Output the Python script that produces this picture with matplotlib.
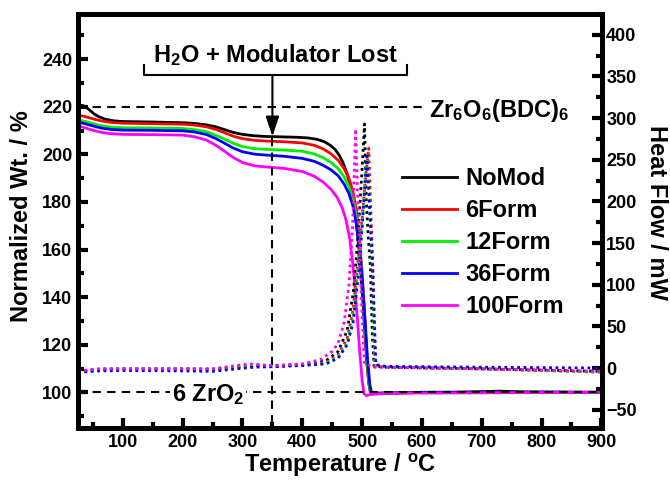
import matplotlib
matplotlib.use("Agg")
import matplotlib.pyplot as plt
from matplotlib.ticker import MultipleLocator

plt.rcParams['font.family'] = ['Liberation Sans', 'DejaVu Sans']
plt.rcParams['font.weight'] = 'bold'
plt.rcParams['mathtext.fontset'] = 'custom'
plt.rcParams['mathtext.rm'] = 'Liberation Sans:bold'
plt.rcParams['mathtext.bf'] = 'Liberation Sans:bold'
plt.rcParams['mathtext.it'] = 'Liberation Sans:bold'
plt.rcParams['mathtext.sf'] = 'Liberation Sans:bold'

# ---------------- data ----------------
series = ["NoMod", "6Form", "12Form", "36Form", "100Form"]
colors = ["#000000", "#ff0000", "#00ee00", "#0000ff", "#ff00ff"]

# TGA (normalized weight, %), left axis
tga_T_nomod = [25, 32, 38, 45, 52, 60, 70, 85, 100, 150, 200, 220, 240, 255, 270, 285, 300, 320, 340,
               360, 390, 410, 425, 437, 447, 455, 462, 468, 474, 480, 485, 490, 495, 500, 504, 508,
               511, 514, 518, 540, 650, 700, 730, 770, 900]
tga_W_nomod = [220.5, 220.6, 220, 218.5, 217, 215.8, 214.8, 214.1, 213.8, 213.6, 213.3, 213.0, 212.4,
               211.6, 210.4, 209.2, 208.4, 207.8, 207.5, 207.4, 207.2, 206.9, 206.3, 205.3, 203.8,
               202, 199.5, 196.5, 192.5, 187.5, 181, 172, 160, 143, 127, 112, 104, 100.2, 99.6,
               99.8, 100, 100.3, 100.5, 100.2, 100]

tga_T_6 = [25, 35, 45, 55, 65, 80, 100, 150, 200, 220, 240, 255, 270, 285, 300, 320, 340, 370, 400,
           420, 435, 448, 460, 470, 478, 485, 490, 495, 500, 504, 508, 511, 514, 520, 600, 900]
tga_W_6 = [216.5, 216, 215.3, 214.6, 214, 213.4, 213.1, 212.9, 212.7, 212.3, 211.6, 210.5, 209.1,
           207.6, 206.6, 205.9, 205.6, 205.3, 204.8, 203.8, 202.3, 200.2, 197.5, 194, 190, 184,
           177, 166, 150, 133, 115, 104, 99.3, 99.4, 100, 100]

tga_T_12 = [25, 35, 45, 55, 65, 80, 100, 150, 200, 220, 240, 255, 270, 285, 300, 320, 340, 370, 400,
            420, 435, 448, 460, 470, 478, 485, 490, 495, 500, 504, 508, 512, 515, 520, 600, 900]
tga_W_12 = [214.5, 214, 213.3, 212.6, 212, 211.5, 211.2, 211.1, 210.9, 210.4, 209.5, 208.1, 206.4,
            204.6, 203.3, 202.4, 202.1, 201.8, 201.3, 200.2, 198.6, 196.6, 194, 190.5, 186.5, 181,
            174, 164, 149, 132, 115, 103, 99.3, 99.4, 100, 100]

tga_T_36 = [25, 35, 45, 55, 65, 80, 100, 150, 200, 220, 240, 255, 270, 285, 300, 320, 340, 370, 400,
            420, 435, 448, 460, 470, 478, 485, 490, 495, 500, 505, 509, 513, 516, 522, 600, 900]
tga_W_36 = [213.5, 213, 212.3, 211.6, 211, 210.5, 210.2, 210.1, 209.9, 209.4, 208.3, 206.7, 204.7,
            202.6, 201.1, 200.1, 199.7, 199.2, 198.3, 197.1, 195.4, 193.5, 191, 187.5, 183.5, 178,
            171, 162, 148, 130, 114, 103, 99.5, 99.5, 100, 100]

tga_T_100 = [25, 35, 45, 55, 65, 80, 100, 150, 200, 220, 240, 255, 270, 285, 300, 320, 340, 370, 400,
             420, 435, 448, 458, 466, 473, 479, 484, 488, 492, 496, 500, 503, 507, 515, 540, 900]
tga_W_100 = [212, 211.3, 210.5, 209.8, 209.2, 208.7, 208.4, 208.3, 208.1, 207.4, 206, 203.9, 201.3,
             198.6, 196.6, 195.2, 194.7, 194.1, 192.8, 190.8, 188.3, 185.3, 182, 178, 172.5, 165,
             155, 144, 131, 117, 105, 99.5, 98.6, 99.1, 99.6, 100]

# DSC (heat flow, mW), right axis
dsc_T_nomod = [25, 40, 60, 100, 200, 250, 290, 320, 350, 400, 420, 440, 460, 475, 485, 490, 495, 500, 504, 507, 510, 514, 517, 520, 540, 700, 900]
dsc_H_nomod = [-4, -3, -1.5, -1, -1, -1.5, 1, 3, 2, 4, 6, 9, 20, 45, 90, 130, 180, 240, 293, 200, 160, 120, 40, 2, 1, -1, -4]

dsc_T_6 = [25, 40, 60, 100, 200, 250, 290, 320, 350, 400, 420, 440, 460, 475, 485, 492, 500, 506, 511, 514, 518, 522, 540, 700, 900]
dsc_H_6 = [-4, -3, -1.5, -1, -1, -1.5, 1, 3, 2, 4, 5, 7, 16, 35, 70, 120, 180, 230, 264, 200, 120, 3, 1, -1, -5]

dsc_T_12 = [25, 40, 60, 100, 200, 250, 290, 320, 350, 400, 420, 440, 460, 475, 485, 492, 500, 506, 509, 513, 518, 521, 540, 700, 900]
dsc_H_12 = [-4, -3, -1.5, -1, -1, -1.5, 1, 2.5, 2, 3.5, 4.5, 6, 14, 30, 60, 110, 170, 240, 255, 180, 100, 2, 1, -1, -5]

dsc_T_36 = [25, 40, 60, 100, 200, 250, 290, 320, 350, 400, 420, 440, 460, 475, 485, 495, 502, 508, 512, 517, 523, 540, 700, 900]
dsc_H_36 = [-5, -4.5, -3.5, -3, -3.5, -4, -1, 1, 1.5, 3, 4, 5, 12, 28, 55, 120, 190, 258, 200, 130, 4, 2, 1, 0]

dsc_T_100 = [25, 40, 60, 100, 200, 250, 290, 310, 350, 400, 430, 450, 460, 470, 478, 484, 489, 492, 496, 500, 504, 520, 700, 900]
dsc_H_100 = [-3, -2.5, -1, -1, -1, -1, 3, 5, 3, 5, 10, 20, 30, 55, 100, 170, 287, 220, 140, 60, 5, 1, -1, -4]

tga = [(tga_T_nomod, tga_W_nomod), (tga_T_6, tga_W_6), (tga_T_12, tga_W_12),
       (tga_T_36, tga_W_36), (tga_T_100, tga_W_100)]
dsc = [(dsc_T_nomod, dsc_H_nomod), (dsc_T_6, dsc_H_6), (dsc_T_12, dsc_H_12),
       (dsc_T_36, dsc_H_36), (dsc_T_100, dsc_H_100)]

# ---------------- figure ----------------
fig = plt.figure(figsize=(6.7, 4.8), dpi=100)
ax = fig.add_axes([78 / 670, 52 / 480, 524 / 670, 414 / 480])
ax2 = ax.twinx()

for (T, W), c, name in zip(tga, colors, series):
    ax.plot(T, W, color=c, lw=2, label=name, solid_joinstyle='round')
for (T, H), c in zip(dsc, colors):
    ax2.plot(T, H, color=c, lw=2, linestyle=(0, (1, 1.3)))

ax.set_xlim(25, 901)
ax.set_ylim(85, 259)
ax2.set_ylim(-72, 425)

ax.xaxis.set_major_locator(MultipleLocator(100))
ax.xaxis.set_minor_locator(MultipleLocator(50))
ax.yaxis.set_major_locator(MultipleLocator(20))
ax.yaxis.set_minor_locator(MultipleLocator(10))
ax2.yaxis.set_major_locator(MultipleLocator(50))
ax2.yaxis.set_minor_locator(MultipleLocator(25))

ax.set_xticks([100, 200, 300, 400, 500, 600, 700, 800, 900])
ax.set_yticks([100, 120, 140, 160, 180, 200, 220, 240])

for a in (ax, ax2):
    for s in a.spines.values():
        s.set_linewidth(3.5)
ax.tick_params(axis='both', which='major', direction='in', length=7, width=3,
               labelsize=13, top=False, right=False, pad=4)
ax.tick_params(axis='both', which='minor', direction='in', length=4, width=3,
               top=False, right=False)
ax2.tick_params(axis='y', which='major', direction='in', length=7, width=3,
                labelsize=13, pad=3)
ax2.tick_params(axis='y', which='minor', direction='in', length=4, width=3)
for lab in ax.get_xticklabels() + ax.get_yticklabels() + ax2.get_yticklabels():
    lab.set_fontweight('bold')

# axis labels
fig.text(22 / 670, 1 - 216 / 480, 'Normalized Wt. / %', rotation=90,
         ha='center', va='center', fontsize=17, fontweight='bold')
fig.text(657 / 670, 1 - 212 / 480, 'Heat Flow / mW', rotation=270,
         ha='center', va='center', fontsize=17, fontweight='bold')
fig.text(340 / 670, 1 - 472 / 480, r'Temperature / $^{\rm o}$C',
         ha='center', va='baseline', fontsize=17, fontweight='bold')

# reference lines and annotations
dash = (0, (4, 3))
ax.plot([25, 602], [220, 220], color='black', lw=1.5, linestyle=dash)
ax.plot([25, 901], [100, 100], color='black', lw=1.5, linestyle=dash)
ax.plot([350, 350], [207, 85], color='black', lw=1.5, linestyle=dash)
ax.plot([135.5, 135.5, 575.6, 575.6], [237.5, 233.3, 233.3, 237.5],
        color='black', lw=1.5)
ax.annotate('', xy=(350, 207.5), xytext=(350, 233.3),
            arrowprops=dict(arrowstyle='-|>,head_length=0.6,head_width=0.2',
                            color='black', lw=1.5, mutation_scale=20,
                            shrinkA=0, shrinkB=0))
ax.text(355, 238.7, r'H$_2$O + Modulator Lost', ha='center', va='baseline',
        fontsize=17, fontweight='bold')
ax.text(611, 215.7, r'Zr$_6$O$_6$(BDC)$_6$', ha='left', va='baseline',
        fontsize=17, fontweight='bold')
ax.text(182, 96.2, r'6 ZrO$_2$', ha='left', va='baseline', fontsize=17,
        fontweight='bold',
        bbox=dict(facecolor='white', edgecolor='none', pad=1))

leg = ax.legend(loc='upper left', bbox_to_anchor=(402 / 670, 1 - 167 / 480),
                bbox_transform=fig.transFigure, frameon=False, fontsize=17,
                handlelength=2.33, handletextpad=0.34, labelspacing=0.38,
                borderpad=0, borderaxespad=0)
for t in leg.get_texts():
    t.set_fontweight('bold')

fig.savefig('out.png', dpi=100)
